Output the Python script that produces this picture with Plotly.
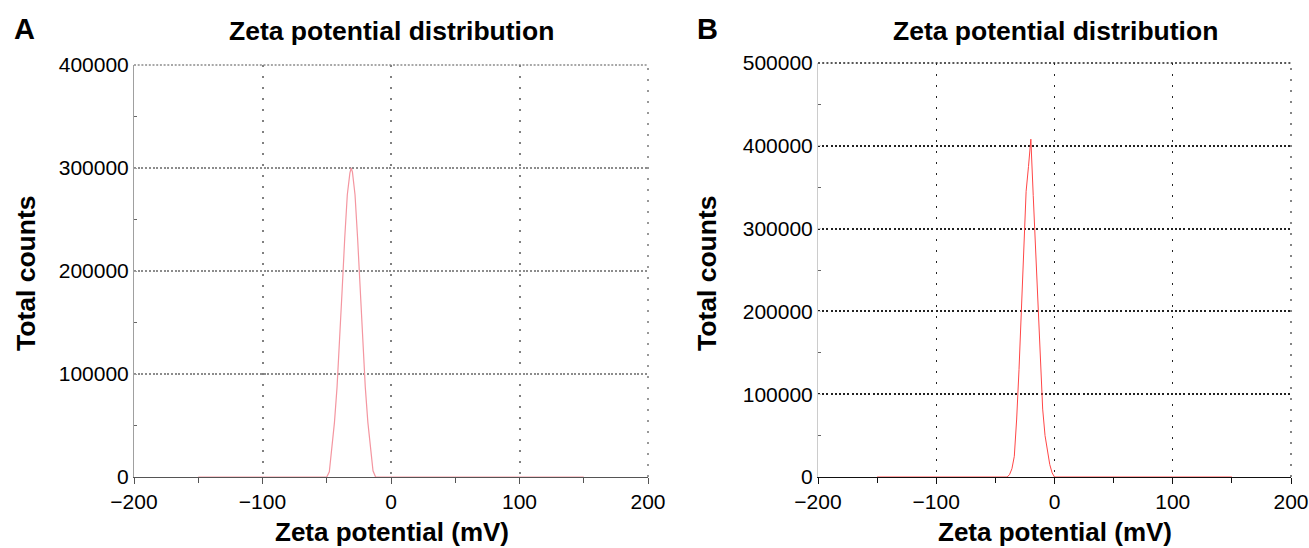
import plotly.graph_objects as go

# ---------------- data ----------------
zeta_a = [-150, -50, -48, -46, -44, -42, -40, -38, -36, -34, -32, -31, -30, -28, -26,
          -24, -22, -20, -18, -16, -14, -12, 150]
counts_a = [0, 0, 5000, 30000, 53000, 87000, 131000, 182000, 232000, 274000, 295000,
            300000, 296000, 274000, 232000, 182000, 131000, 87000, 53000, 28000, 6000, 0, 0]

zeta_b = [-150, -40, -38, -36, -34, -32, -30, -28, -26, -24, -22, -20, -18, -16, -14,
          -12, -10, -8, -6, -4, -2, 0, 150]
counts_b = [0, 0, 3000, 10000, 25000, 70000, 130000, 205000, 285000, 345000, 375000,
            408000, 340000, 275000, 210000, 140000, 82000, 50000, 30000, 15000, 5000, 0, 0]

x_ticks = [-200, -100, 0, 100, 200]
y_ticks_a = [0, 100000, 200000, 300000, 400000]
y_ticks_b = [0, 100000, 200000, 300000, 400000, 500000]

panel_labels = ["A", "B"]
title_text = "Zeta potential distribution"
x_title = "Zeta potential (mV)"
y_title = "Total counts"

# ---------------- figure ----------------
W, H = 1309, 548
FONT = "Arial, 'Liberation Sans', sans-serif"

fig = go.Figure()
fig.add_trace(go.Scatter(x=zeta_a, y=counts_a, mode="lines",
                         line=dict(color="rgb(244,150,160)", width=1.2),
                         xaxis="x", yaxis="y", showlegend=False))
fig.add_trace(go.Scatter(x=zeta_b, y=counts_b, mode="lines",
                         line=dict(color="rgb(255,70,70)", width=1),
                         xaxis="x2", yaxis="y2", showlegend=False))


def px(v):
    return v / W


def py(v):
    return 1 - v / H


def xaxis(domain, gridcolor, griddash, gridwidth, linecolor, anchor):
    return dict(domain=domain, range=[-200, 200], tickvals=x_ticks, anchor=anchor,
                automargin=False,
                showgrid=True, gridcolor=gridcolor, griddash=griddash, gridwidth=gridwidth,
                showline=True, linecolor=linecolor, linewidth=1.4,
                zeroline=False,
                ticks="outside", ticklen=6, tickcolor=linecolor, tickwidth=1,
                minor=dict(dtick=50, ticks="outside", ticklen=5, tickcolor=linecolor,
                           showgrid=False),
                tickfont=dict(family=FONT, size=21, color="black"), fixedrange=True)


def yaxis(domain, rng, vals, gridcolor, griddash, gridwidth, linecolor, anchor):
    return dict(domain=domain, range=rng, tickvals=vals, tickformat="d", anchor=anchor,
                automargin=False,
                showgrid=True, gridcolor=gridcolor, griddash=griddash, gridwidth=gridwidth,
                showline=True, linecolor=linecolor, linewidth=1,
                zeroline=False,
                ticks="inside", ticklen=3, tickcolor=linecolor,
                minor=dict(dtick=50000, ticks="inside", ticklen=3, tickcolor="#666",
                           showgrid=False),
                tickfont=dict(family=FONT, size=21, color="black"), fixedrange=True)


A_VGRID = dict(color="#808080", dash="2px,9px", width=1.6)
A_HGRID = dict(color="#8c8c8c", dash="2px,1.7px", width=1.6)
B_VGRID = dict(color="#222222", dash="2px,9px", width=1.1)
B_HGRID = dict(color="#222222", dash="2px,2.2px", width=1.5)

fig.update_layout(
    width=W, height=H,
    margin=dict(l=0, r=0, t=0, b=0),
    paper_bgcolor="white", plot_bgcolor="white",
    xaxis=xaxis([px(134), px(648)], A_VGRID["color"], A_VGRID["dash"], A_VGRID["width"],
                "#555555", "y"),
    yaxis=yaxis([py(477), py(65)], [0, 400000], y_ticks_a, A_HGRID["color"],
                A_HGRID["dash"], A_HGRID["width"], "#a0a0a0", "x"),
    xaxis2=xaxis([px(818), px(1291)], B_VGRID["color"], B_VGRID["dash"], B_VGRID["width"],
                 "#111111", "y2"),
    yaxis2=yaxis([py(477), py(63)], [0, 500000], y_ticks_b, B_HGRID["color"],
                 B_HGRID["dash"], B_HGRID["width"], "#cccccc", "x2"),
)

# edge grid lines (plotly omits grid lines that sit on the plot edge)
shapes = []
for xr, yr, vg, hg in [("x", "y", A_VGRID, A_HGRID), ("x2", "y2", B_VGRID, B_HGRID)]:
    shapes.append(dict(type="line", xref=xr + " domain", yref=yr + " domain",
                       x0=1, x1=1, y0=0, y1=1, line=vg, layer="below"))
    shapes.append(dict(type="line", xref=xr + " domain", yref=yr + " domain",
                       x0=0, x1=1, y0=1, y1=1, line=hg, layer="below"))
fig.update_layout(shapes=shapes)

ann = []
for lab, lx, tcx, ycx in [(panel_labels[0], 12, 392, 26), (panel_labels[1], 695, 1055, 707)]:
    ann.append(dict(text="<b>%s</b>" % lab, x=px(lx), y=py(29), xref="paper", yref="paper",
                    xanchor="left", yanchor="middle", showarrow=False,
                    font=dict(family=FONT, size=29, color="black")))
    ann.append(dict(text="<b>%s</b>" % title_text, x=px(tcx), y=py(31), xref="paper",
                    yref="paper", xanchor="center", yanchor="middle", showarrow=False,
                    font=dict(family=FONT, size=26.5, color="black")))
    ann.append(dict(text="<b>%s</b>" % x_title, x=px(tcx), y=py(532), xref="paper",
                    yref="paper", xanchor="center", yanchor="middle", showarrow=False,
                    font=dict(family=FONT, size=26, color="black")))
    ann.append(dict(text="<b>%s</b>" % y_title, x=px(ycx), y=py(273), xref="paper",
                    yref="paper", xanchor="center", yanchor="middle", showarrow=False,
                    textangle=-90, font=dict(family=FONT, size=26.5, color="black")))
fig.update_layout(annotations=ann)

fig.write_html(
    "out.html",
    config={"displayModeBar": False},
    post_script="document.body.style.margin='0';document.body.style.overflow='hidden';",
)
